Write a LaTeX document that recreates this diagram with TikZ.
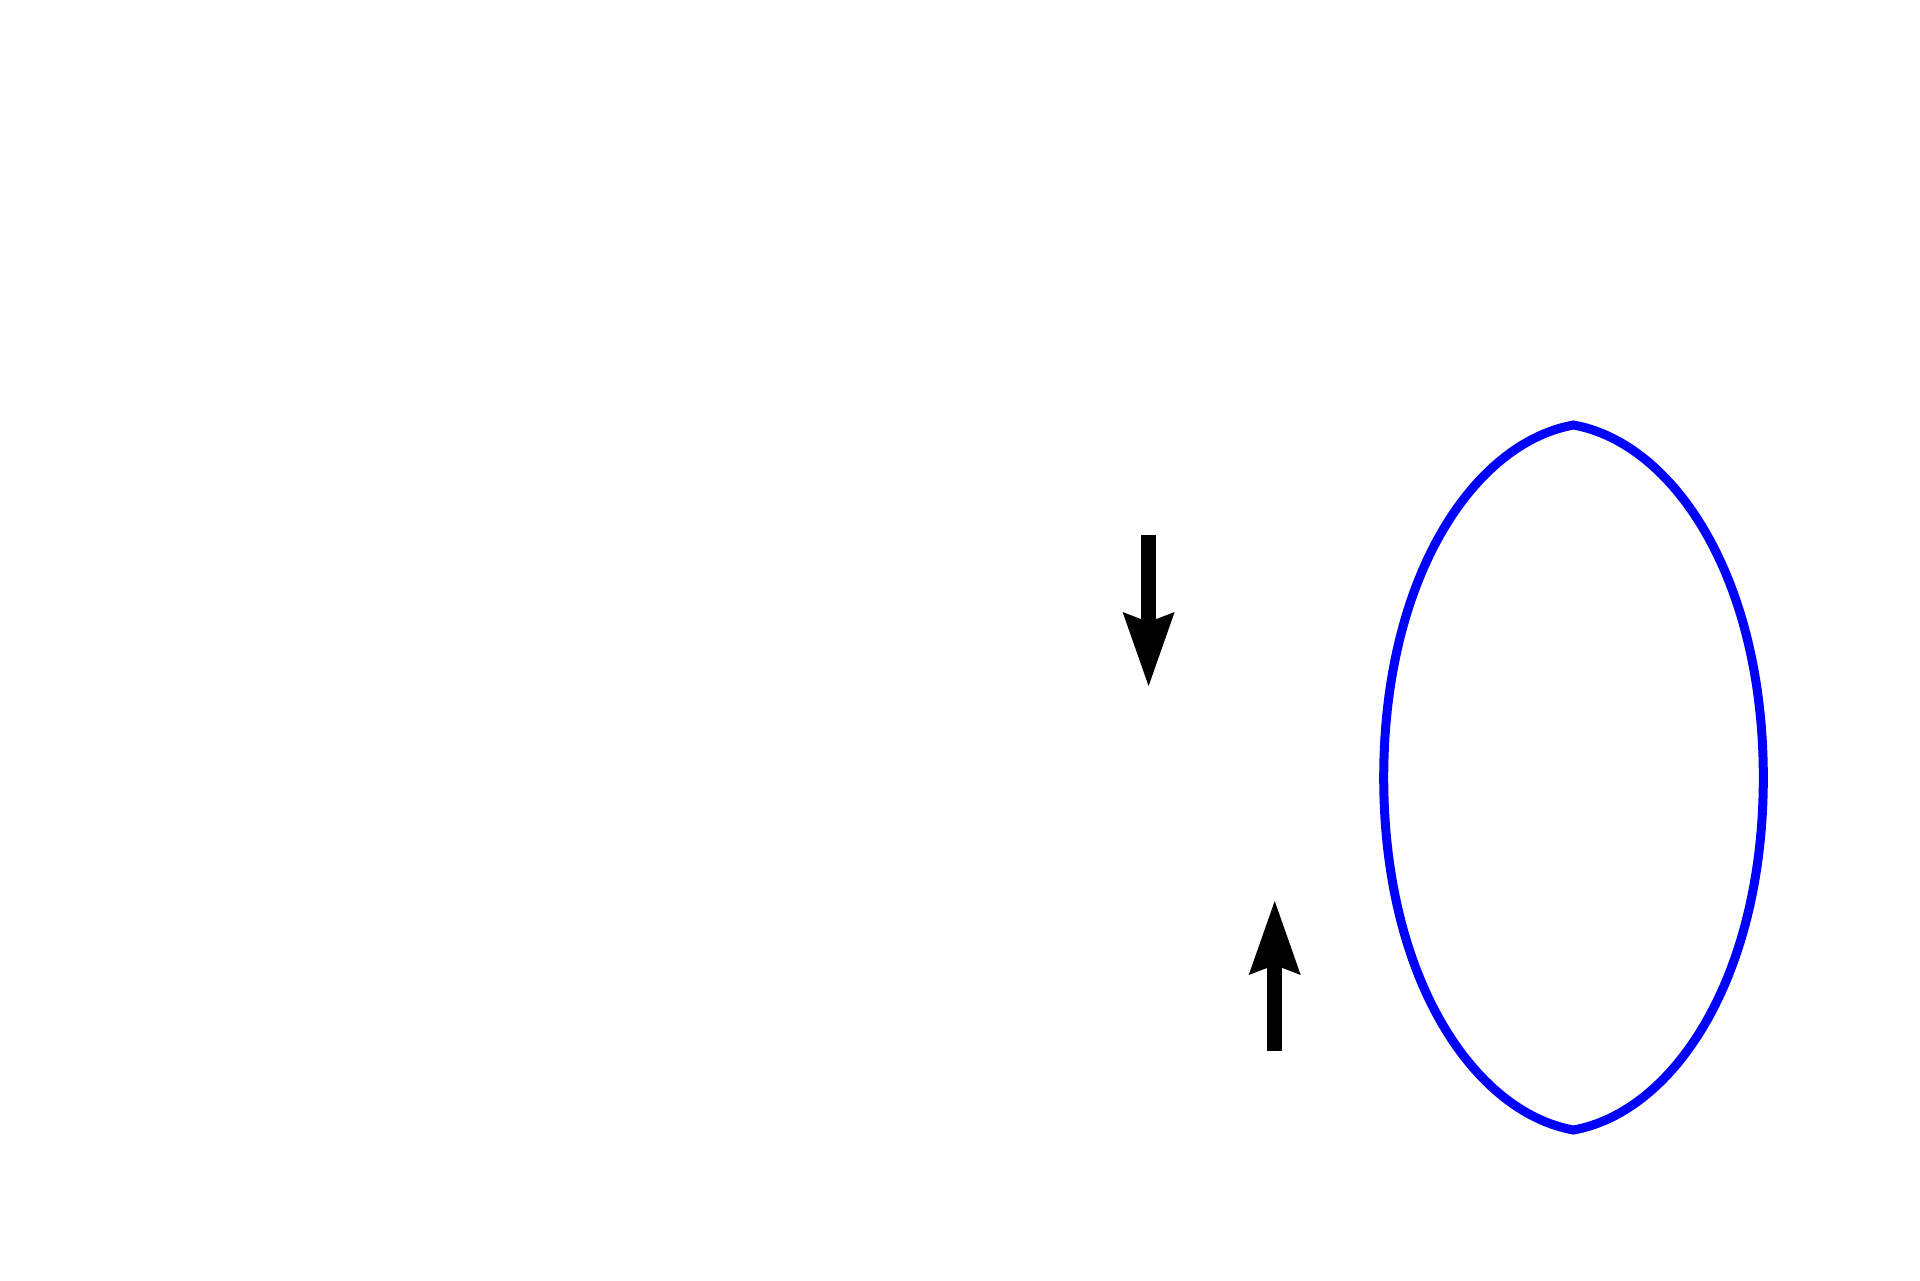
\documentclass[tikz,border=0pt]{standalone}
\usetikzlibrary{arrows.meta}
\begin{document}
\begin{tikzpicture}[x=0.5pt,y=-0.5pt,
  bigarrow/.style={line width=7.5pt,black,-{Stealth[length=37pt,width=26pt,inset=5pt,line width=0pt]}},
  lens/.style={line width=4.5pt,draw={rgb,255:red,0;green,0;blue,255}}]
\useasboundingbox (0,0) rectangle (1920,1280);
\coordinate (d1) at (1148.6,535);
\coordinate (d2) at (1148.6,686);
\coordinate (u1) at (1274.7,1050.6);
\coordinate (u2) at (1274.7,901);
\draw[bigarrow] (d1) -- (d2);
\draw[bigarrow] (u1) -- (u2);
\coordinate (T) at (1573.5,425);
\coordinate (R) at (1763.3,777.6);
\coordinate (B) at (1573.5,1130);
\coordinate (L) at (1383.7,777.6);
\draw[lens] (T) .. controls +(100,18) and +(0,-200) .. (R)
  .. controls +(0,200) and +(100,-18) .. (B)
  .. controls +(-100,-18) and +(0,200) .. (L)
  .. controls +(0,-200) and +(-100,18) .. (T) -- cycle;
\end{tikzpicture}
\end{document}
